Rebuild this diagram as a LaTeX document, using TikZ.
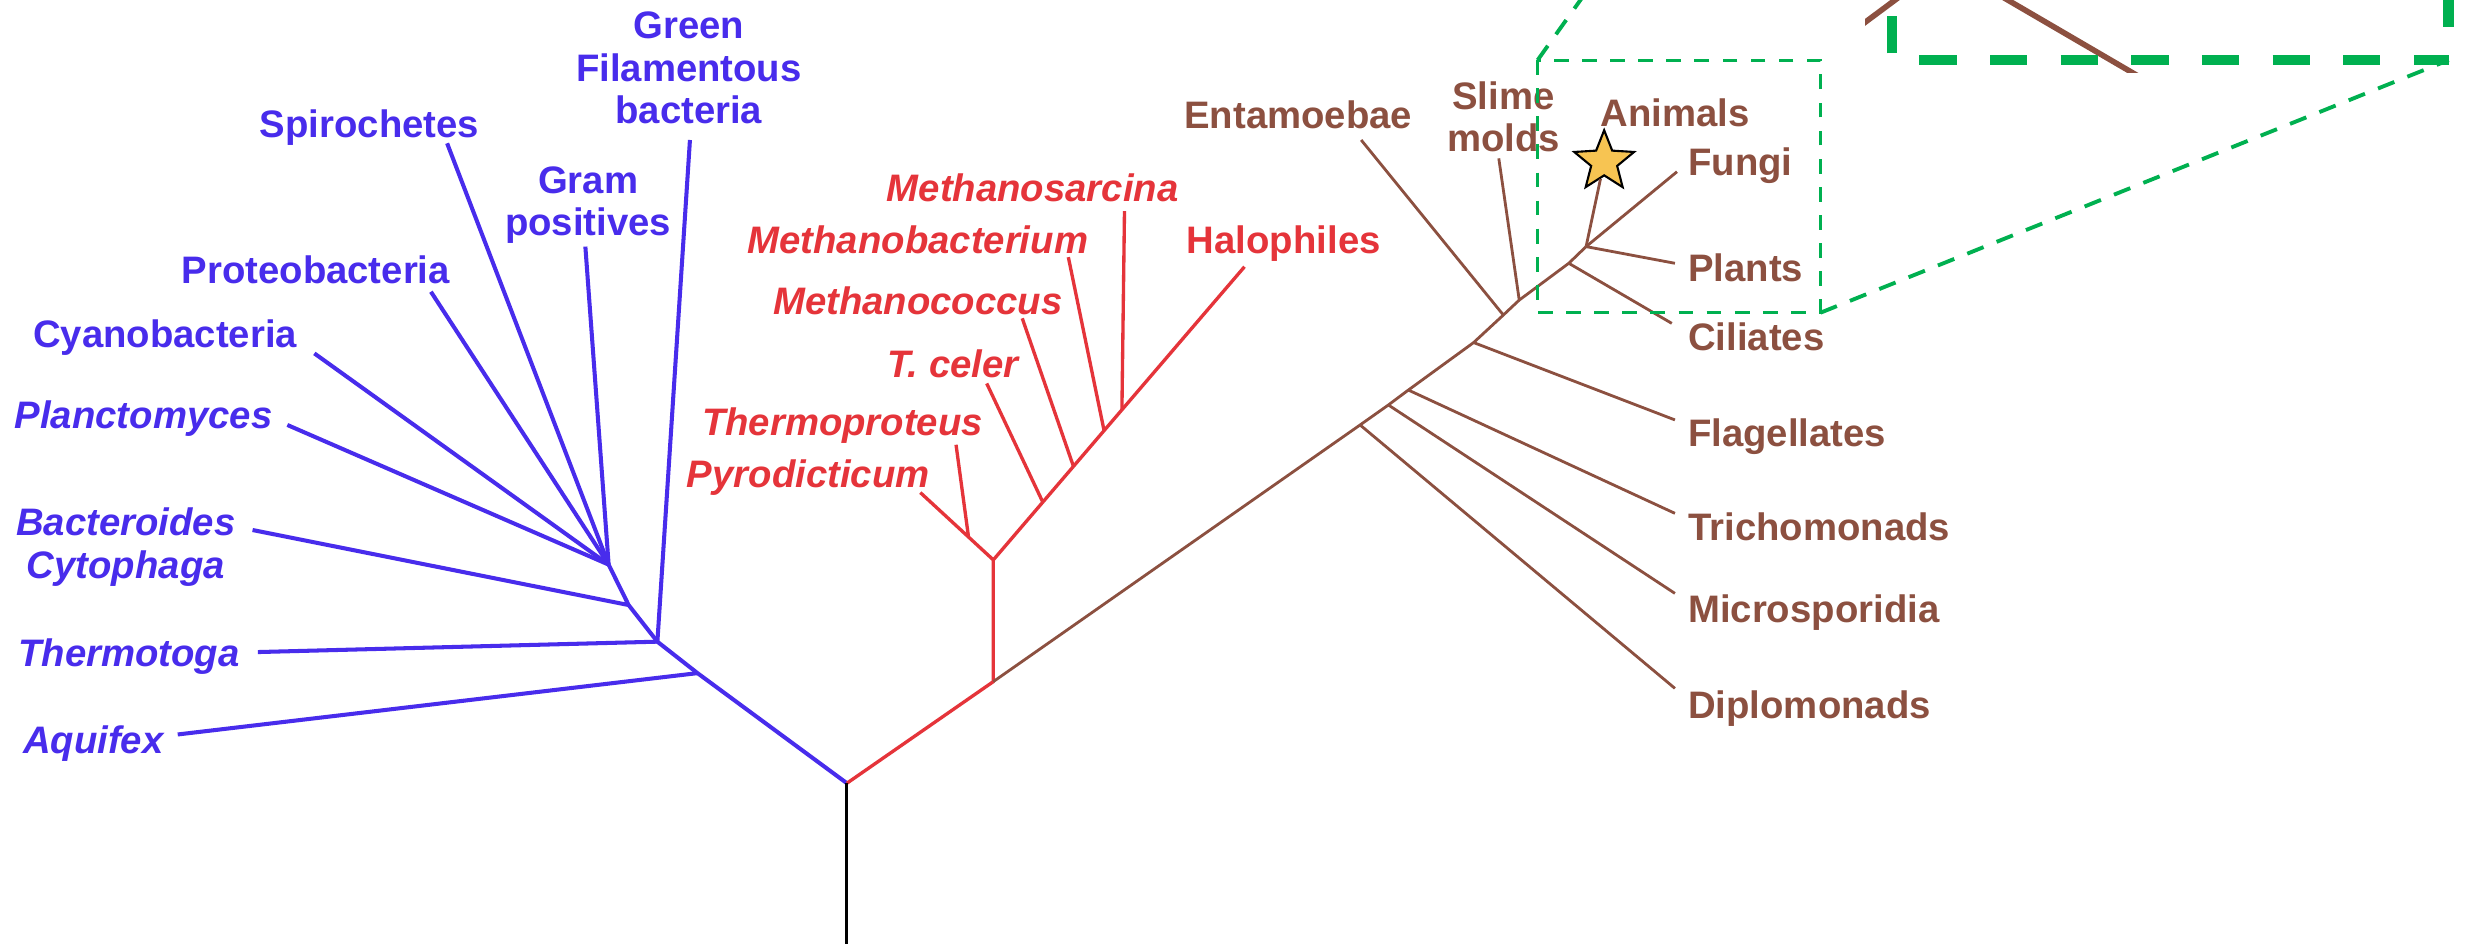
\documentclass[tikz,border=0pt]{standalone}
\usepackage{fontspec}
\setmainfont{Liberation Sans}
\usetikzlibrary{calc,shapes.geometric}

\definecolor{bactblue}{RGB}{72,44,236}
\definecolor{archred}{RGB}{229,52,58}
\definecolor{eukbrown}{RGB}{140,80,64}
\definecolor{zoomgreen}{RGB}{0,176,80}
\definecolor{stargold}{RGB}{247,196,82}

\tikzset{
  bact/.style={draw=bactblue, line width=1.15pt, line join=round}, % bacteria branches
  arch/.style={draw=archred, line width=0.95pt, line join=round}, % archaea branches
  euk/.style={draw=eukbrown, line width=0.8pt, line join=round}, % eukaryote branches
  taxon/.style={inner sep=0pt, font=\fontsize{10.9}{12.1}\selectfont\bfseries, text height=7.8pt, text depth=0pt}, % one-line label
  genus/.style={taxon, font=\fontsize{10.9}{12.1}\selectfont\bfseries\itshape}, % italic label
  taxa/.style={inner sep=0pt, align=center, font=\fontsize{10.9}{12.1}\selectfont\bfseries}, % two-line label
  zoombox/.style={draw=zoomgreen, line width=0.9pt, dash pattern=on 4.2pt off 3.8pt},
  zoomlink/.style={draw=zoomgreen, line width=1.1pt, dash pattern=on 5pt off 4pt},
  zoomframe/.style={draw=zoomgreen, line width=3pt, dash pattern=on 10.6pt off 9.5pt}
}

% eukaryote branches, used twice (tree and magnified inset)
\newcommand\eukbranches{%
  \coordinate (dipj) at (864.8,270.2);
  \coordinate (micj) at (882.8,257.5);
  \coordinate (trij) at (895.5,248);
  \coordinate (flaj) at (937,217.8);
  \coordinate (entj) at (955.9,200.3);
  \coordinate (slmj) at (966,190.8);
  \coordinate (cilj) at (997.5,167.4);
  \coordinate (anij) at (1008.5,156.8);
  \coordinate (dipt) at (1065,437.7);
  \coordinate (mict) at (1065,377.3);
  \coordinate (trit) at (1065,326.4);
  \coordinate (flat) at (1065,267);
  \coordinate (entt) at (865.5,89);
  \coordinate (slmt) at (953,100.7);
  \coordinate (cilt) at (1063,205.6);
  \coordinate (fngt) at (1066.3,109.2);
  \coordinate (plnt) at (1065,167.4);
  \draw[euk] (redj) -- (dipj) -- (micj) -- (trij) -- (flaj) -- (entj) -- (slmj) -- (cilj) -- (anij);
  \foreach \j/\t in {dipj/dipt, micj/mict, trij/trit, flaj/flat, entj/entt, slmj/slmt, cilj/cilt, anij/fngt, anij/plnt}
    \draw[euk] (\j) -- (\t);
  \node[star, star points=5, star point ratio=2.3, minimum size=0.629cm, inner sep=0pt,
        draw=black, line width=0.6pt, fill=stargold] (anistar) at (1020,102.8) {};
  \draw[euk] (anij) -- (anistar);
}

\begin{document}
\begin{tikzpicture}[x=0.015727cm, y=-0.015727cm]
  \useasboundingbox (0,0) rectangle (1568,600);
  \fill[white] (0,0) rectangle (1568,600);

  \coordinate (root) at (538.5,498);
  \coordinate (base) at (538.5,600);

  % bacteria
  \coordinate (aqj) at (443.5,428);
  \coordinate (thj) at (418,408);
  \coordinate (bcj) at (399.7,384.7);
  \coordinate (fan) at (387,359);
  \coordinate (aqt) at (113,467);
  \coordinate (tht) at (164,414.6);
  \coordinate (bct) at (160.6,337);
  \coordinate (plt) at (182.7,270.2);
  \coordinate (cyt) at (199.9,224.7);
  \coordinate (prt) at (274,185.5);
  \coordinate (spt) at (284.3,91.1);
  \coordinate (grt) at (372.2,156.8);
  \coordinate (gft) at (438.7,89);

  \draw[bact] (root) -- (aqj) -- (thj) -- (bcj) -- (fan);
  \foreach \t in {plt,cyt,prt,spt,grt}
    \draw[bact] (fan) -- (\t);
  \draw[bact] (bcj) -- (bct);
  \draw[bact] (thj) -- (tht);
  \draw[bact] (thj) -- (gft);
  \draw[bact] (aqj) -- (aqt);

  \node[taxa, text=bactblue] (gflab) at (438,43.4) {Green\\Filamentous\\bacteria};
  \node[taxon, text=bactblue] (splab) at (235,78.4) {Spirochetes};
  \node[taxa, text=bactblue] (grlab) at (374,130.5) {Gram\\positives};
  \node[taxon, text=bactblue] (prlab) at (200.8,171.7) {Proteobacteria};
  \node[taxon, text=bactblue] (cylab) at (105,212) {Cyanobacteria};
  \node[genus, text=bactblue] (pllab) at (91.3,264) {Planctomyces};
  \node[taxa, font=\fontsize{10.9}{12.1}\selectfont\bfseries\itshape, text=bactblue] (bclab) at (80,348) {Bacteroides\\Cytophaga};
  \node[genus, text=bactblue] (thlab) at (82,415) {Thermotoga};
  \node[genus, text=bactblue] (aqlab) at (59.3,470.5) {Aquifex};

  % archaea
  \coordinate (redj) at (631.6,433.4);
  \coordinate (fork) at (631.6,356);
  \coordinate (pyt) at (585.2,313.2);
  \coordinate (tpt) at (607.9,282.8);
  \coordinate (tct) at (627.4,243.8);
  \coordinate (mct) at (650,202.4);
  \coordinate (mbt) at (679.3,163.5);
  \coordinate (mst) at (715,134.3);
  \coordinate (hat) at (791.3,169.6);
  \coordinate (tpj) at ($(fork)!0.34!(pyt)$);
  \coordinate (tcj) at ($(fork)!0.197!(hat)$);
  \coordinate (mcj) at ($(fork)!0.319!(hat)$);
  \coordinate (mbj) at ($(fork)!0.441!(hat)$);
  \coordinate (msj) at ($(fork)!0.512!(hat)$);

  \draw[arch] (root) -- (redj) -- (fork) -- (pyt);
  \draw[arch] (fork) -- (hat);
  \foreach \j/\t in {tpj/tpt, tcj/tct, mcj/mct, mbj/mbt, msj/mst}
    \draw[arch] (\j) -- (\t);

  \node[genus, text=archred] (mslab) at (656.6,119.7) {Methanosarcina};
  \node[genus, text=archred] (mblab) at (583.6,152.6) {Methanobacterium};
  \node[genus, text=archred] (mclab) at (583.6,191.5) {Methanococcus};
  \node[genus, text=archred] (tclab) at (606,231.6) {T. celer};
  \node[genus, text=archred] (tplab) at (535.7,268.1) {Thermoproteus};
  \node[genus, text=archred] (pylab) at (513.9,301) {Pyrodicticum};
  \node[taxon, text=archred] (halab) at (816.3,152.6) {Halophiles};

  % eukaryotes
  \eukbranches
  \node[taxon, text=eukbrown] (entlab) at (825.5,73.1) {Entamoebae};
  \node[taxa, text=eukbrown] (slmlab) at (956,74.2) {Slime\\molds};
  \node[taxon, text=eukbrown] (anilab) at (1065,72) {Animals};
  \foreach \n/\y/\t in {fnglab/103/Fungi, plnlab/170.5/Plants, cillab/214/Ciliates,
                        flalab/275.5/Flagellates, trilab/335/Trichomonads,
                        miclab/387/Microsporidia, diplab/448.3/Diplomonads}
    \node[taxon, text=eukbrown, anchor=west] (\n) at (1073,\y) {\t};

  \draw[line width=0.9pt] (root) -- (base);

  % zoom box and inset
  \coordinate (boxNW) at (977.7,38.2);
  \coordinate (boxSE) at (1157.6,198.8);
  \coordinate (insetNW) at (1203,-278);
  \coordinate (insetSW) at (1203,38.2);
  \coordinate (insetSE) at (1557,38.2);
  \coordinate (insetNE) at (1557,-278);
  \draw[zoombox] (boxNW) rectangle (boxSE);
  \draw[zoomlink] (boxNW) -- (insetNW);
  \draw[zoomlink] (boxSE) -- (insetSE);
  \begin{scope}
    \clip (1186,-290) rectangle (1568,46);
    \begin{scope}[shift={(-729,-353.25)}, scale=1.97, transform shape,
                  euk/.append style={line width=1.6pt}]
      \eukbranches
    \end{scope}
  \end{scope}
  \draw[zoomframe, dash phase=18.2pt] (insetSW) -- (insetNW);
  \draw[zoomframe, dash phase=12.3pt] (insetSW) -- (insetSE);
  \draw[zoomframe, dash phase=10.6pt] (insetSE) -- (insetNE);
\end{tikzpicture}
\end{document}
